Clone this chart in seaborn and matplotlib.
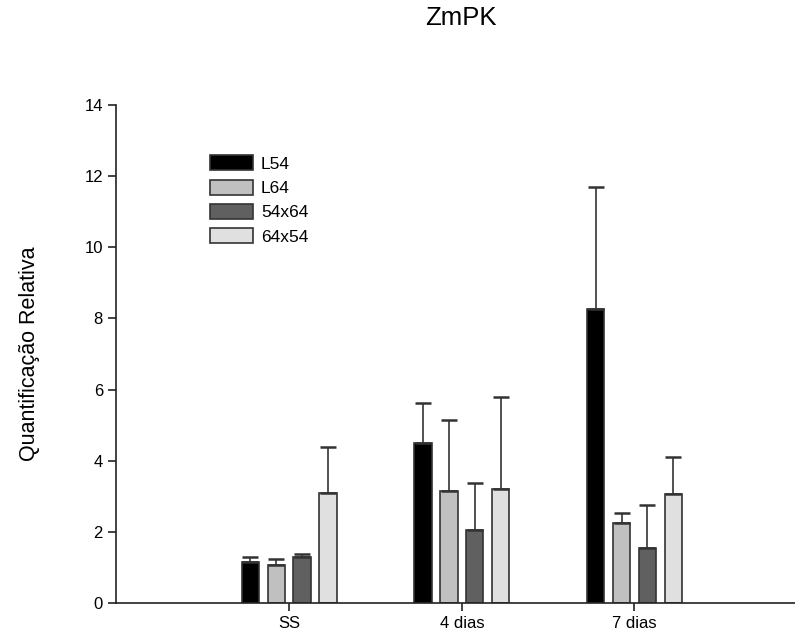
import matplotlib
matplotlib.use("Agg")
import matplotlib.pyplot as plt
import numpy as np
import pandas as pd
import seaborn as sns

# Data
groups = ["SS", "4 dias", "7 dias"]
lines = ["L54", "L64", "54x64", "64x54"]
means = {
    "L54": [1.16, 4.51, 8.26],
    "L64": [1.07, 3.15, 2.24],
    "54x64": [1.29, 2.05, 1.54],
    "64x54": [3.10, 3.20, 3.06],
}
upper = {
    "L54": [1.28, 5.61, 11.68],
    "L64": [1.24, 5.13, 2.54],
    "54x64": [1.38, 3.36, 2.76],
    "64x54": [4.39, 5.78, 4.11],
}
colors = ["#000000", "#c0c0c0", "#606060", "#e0e0e0"]

rows = []
for ln in lines:
    for i, g in enumerate(groups):
        rows.append({"group": g, "line": ln, "value": means[ln][i], "upper": upper[ln][i]})
df = pd.DataFrame(rows)

sns.set_theme(style="white")
plt.rcParams["font.family"] = ["Liberation Sans", "DejaVu Sans"]
plt.rcParams["text.color"] = "black"
plt.rcParams["axes.labelcolor"] = "black"
plt.rcParams["xtick.color"] = "black"
plt.rcParams["ytick.color"] = "black"

fig = plt.figure(figsize=(7.95, 6.41), dpi=100)
ax = fig.add_axes([0.146, 0.0593, 0.854, 0.7771])

sns.barplot(
    data=df, x="group", y="value", hue="line", order=groups, hue_order=lines,
    palette=colors, width=0.6, gap=0.33, errorbar=None,
    edgecolor="#333333", linewidth=1.2, ax=ax,
)

# one-sided (upper) error bars drawn at the bar centres
bars = [p for p in ax.patches if p.get_height() > 0]
for p in bars:
    x = p.get_x() + p.get_width() / 2
    h = p.get_height()
    top = df.loc[np.isclose(df["value"], h), "upper"].iloc[0]
    ax.errorbar(x, h, yerr=[[0], [top - h]], fmt="none", ecolor="#333333",
                elinewidth=1.2, capsize=5.5, capthick=1.8)

ax.set_xlim(-1.003, 2.93)
ax.set_ylim(0, 14)
ax.set_yticks(range(0, 15, 2))
ax.set_xlabel("")
ax.set_ylabel("Quantificação Relativa", fontsize=15.5, labelpad=32)
fig.text(0.58, 1 - 18 / 641, "ZmPK", fontsize=18.5, ha="center", va="center")

for side in ["top", "right"]:
    ax.spines[side].set_visible(False)
for side in ["left", "bottom"]:
    ax.spines[side].set_color("#222222")
    ax.spines[side].set_linewidth(1.2)
ax.tick_params(axis="both", which="major", direction="out", length=6, width=1.2,
               color="#222222", labelsize=12, left=True, bottom=True)

ax.legend(
    loc="upper left", bbox_to_anchor=(0.115, 0.93), frameon=False,
    fontsize=12.5, handlelength=2.5, handleheight=0.95, labelspacing=0.45,
    handletextpad=0.45,
)

fig.savefig("out.png", dpi=100)
